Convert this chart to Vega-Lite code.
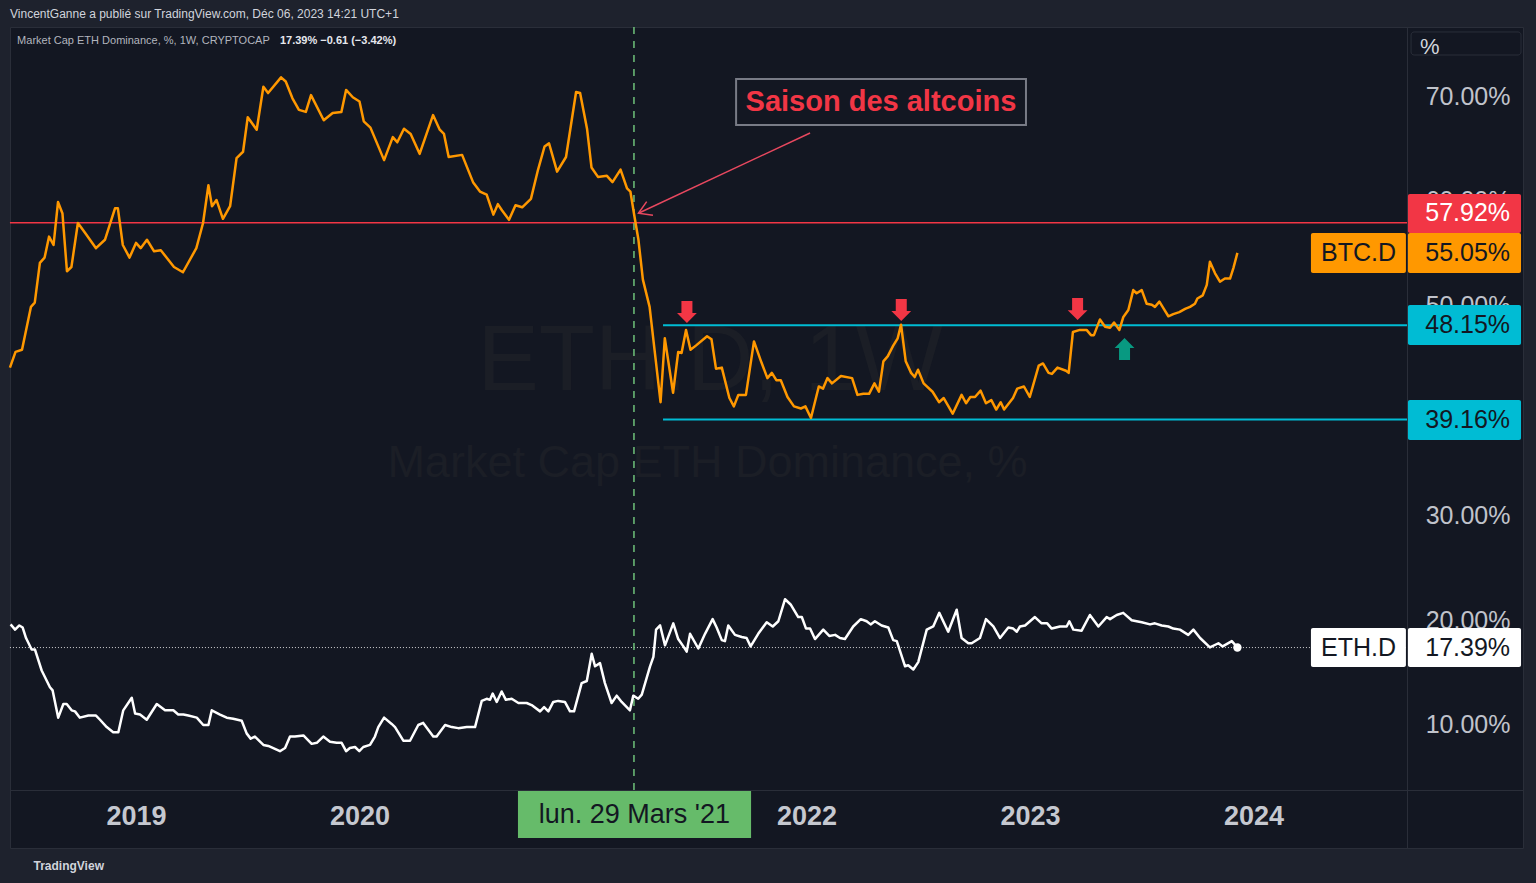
{
  "$schema": "https://vega.github.io/schema/vega-lite/v6.json",
  "width": 1513,
  "height": 821,
  "autosize": {"type": "none"},
  "padding": {"left": 10, "top": 27, "right": 13, "bottom": 35},
  "background": "#1e222d",
  "title": {
    "text": "VincentGanne a publié sur TradingView.com, Déc 06, 2023 14:21 UTC+1",
    "anchor": "start",
    "frame": "group",
    "offset": 0,
    "baseline": "middle",
    "fontSize": 12,
    "fontWeight": "normal",
    "color": "#d1d4dc",
    "font": "Liberation Sans"
  },
  "config": {
    "font": "Liberation Sans",
    "view": {"fill": "#131722", "stroke": "#2a2e39", "strokeWidth": 1}
  },
  "encoding": {
    "x": {
      "field": "t",
      "type": "quantitative",
      "scale": {"domain": [2018.43624, 2025.20582], "nice": false, "zero": false},
      "axis": {
        "orient": "bottom",
        "offset": -58,
        "values": [2019, 2020, 2022, 2023, 2024],
        "format": "d",
        "grid": false,
        "ticks": false,
        "tickSize": 0,
        "domainColor": "#2a2e39",
        "labelColor": "#c5c8d0",
        "labelFontSize": 27,
        "labelFontWeight": "bold",
        "labelBaseline": "middle",
        "labelPadding": 26,
        "labelFlush": false,
        "labelOverlap": false,
        "title": "TradingView",
        "titleX": 23,
        "titleY": 75,
        "titleAlign": "left",
        "titleAnchor": "start",
        "titleBaseline": "middle",
        "titleFontSize": 12,
        "titleFontWeight": "bold",
        "titleColor": "#d1d4dc",
        "titleAngle": 0
      }
    },
    "y": {
      "field": "v",
      "type": "quantitative",
      "scale": {"domain": [-1.737, 76.603], "nice": false, "zero": false},
      "axis": {
        "orient": "right",
        "offset": -116,
        "values": [10, 20, 30, 50, 60, 70],
        "labelExpr": "format(datum.value, '.2f') + '%'",
        "grid": false,
        "ticks": false,
        "tickSize": 0,
        "domainColor": "#2a2e39",
        "labelColor": "#c0c3cb",
        "labelFontSize": 25,
        "labelAlign": "right",
        "labelBaseline": "middle",
        "labelPadding": 103,
        "labelOverlap": false,
        "labelFlush": false,
        "title": null
      }
    }
  },
  "layer": [
    {
      "data": {"values": [{"t": 2021.568, "v": 44.64, "label": "ETH.D, 1W"}]},
      "mark": {"type": "text", "align": "center", "baseline": "middle", "fontSize": 92, "color": "#1b1e26"},
      "encoding": {"text": {"field": "label"}}
    },
    {
      "data": {"values": [{"t": 2021.557, "v": 35.0, "label": "Market Cap ETH Dominance, %"}]},
      "mark": {"type": "text", "align": "center", "baseline": "middle", "fontSize": 45, "color": "#1b1e26"},
      "encoding": {"text": {"field": "label"}}
    },
    {
      "data": {"values": [{"t": 2018.436, "t2": 2024.687, "v": 57.92}]},
      "mark": {"type": "rule", "color": "#f23645", "strokeWidth": 1.5},
      "encoding": {"x2": {"field": "t2"}}
    },
    {
      "data": {"values": [{"t": 2021.358, "t2": 2024.687, "v": 48.15}, {"t": 2021.358, "t2": 2024.687, "v": 39.16}]},
      "mark": {"type": "rule", "color": "#00bcd4", "strokeWidth": 2},
      "encoding": {"x2": {"field": "t2"}}
    },
    {
      "data": {"values": [{"t": 2018.436, "t2": 2024.687, "v": 17.39}]},
      "mark": {"type": "rule", "color": "#ffffff", "strokeWidth": 1, "strokeDash": [1, 2], "opacity": 0.8},
      "encoding": {"x2": {"field": "t2"}}
    },
    {
      "data": {"values": [{"t": 2021.228, "v": 3.8, "v2": 76.603}]},
      "mark": {"type": "rule", "color": "#6fc27a", "strokeWidth": 1.5, "strokeDash": [7, 7]},
      "encoding": {"y2": {"field": "v2"}}
    },
    {
      "data": {"values": [
        {"t":2018.436,"v":44.1},{"t":2018.461,"v":45.6},{"t":2018.490,"v":45.8},{"t":2018.530,"v":49.9},{"t":2018.547,"v":50.3},
        {"t":2018.570,"v":54.1},{"t":2018.591,"v":54.6},{"t":2018.611,"v":56.6},{"t":2018.631,"v":55.8},{"t":2018.651,"v":59.9},
        {"t":2018.671,"v":58.8},{"t":2018.691,"v":53.3},{"t":2018.711,"v":53.7},{"t":2018.740,"v":57.9},{"t":2018.771,"v":57.0},
        {"t":2018.821,"v":55.5},{"t":2018.861,"v":56.3},{"t":2018.906,"v":59.3},{"t":2018.919,"v":59.3},{"t":2018.941,"v":55.8},
        {"t":2018.971,"v":54.6},{"t":2019.000,"v":56.0},{"t":2019.021,"v":55.5},{"t":2019.049,"v":56.3},{"t":2019.081,"v":55.2},
        {"t":2019.111,"v":55.3},{"t":2019.170,"v":53.7},{"t":2019.210,"v":53.2},{"t":2019.270,"v":55.5},{"t":2019.300,"v":57.9},
        {"t":2019.324,"v":61.5},{"t":2019.340,"v":59.5},{"t":2019.360,"v":60.1},{"t":2019.389,"v":58.3},{"t":2019.421,"v":59.5},
        {"t":2019.450,"v":64.1},{"t":2019.479,"v":64.7},{"t":2019.500,"v":68.0},{"t":2019.540,"v":66.8},{"t":2019.570,"v":70.9},
        {"t":2019.591,"v":70.3},{"t":2019.649,"v":71.8},{"t":2019.670,"v":71.4},{"t":2019.700,"v":69.8},{"t":2019.729,"v":68.7},
        {"t":2019.760,"v":68.5},{"t":2019.783,"v":70.1},{"t":2019.840,"v":67.7},{"t":2019.880,"v":68.4},{"t":2019.919,"v":68.5},
        {"t":2019.940,"v":70.6},{"t":2019.970,"v":69.9},{"t":2020.000,"v":69.5},{"t":2020.019,"v":67.6},{"t":2020.049,"v":67.0},
        {"t":2020.110,"v":63.9},{"t":2020.149,"v":66.1},{"t":2020.169,"v":65.6},{"t":2020.199,"v":66.9},{"t":2020.229,"v":66.4},
        {"t":2020.269,"v":64.5},{"t":2020.329,"v":68.2},{"t":2020.359,"v":66.8},{"t":2020.378,"v":66.4},{"t":2020.399,"v":64.2},
        {"t":2020.459,"v":64.4},{"t":2020.508,"v":61.8},{"t":2020.539,"v":60.9},{"t":2020.569,"v":60.6},{"t":2020.599,"v":58.7},
        {"t":2020.619,"v":59.7},{"t":2020.638,"v":59.1},{"t":2020.669,"v":58.2},{"t":2020.698,"v":59.6},{"t":2020.728,"v":59.4},
        {"t":2020.767,"v":60.2},{"t":2020.799,"v":63.0},{"t":2020.828,"v":65.2},{"t":2020.848,"v":65.5},{"t":2020.884,"v":62.8},
        {"t":2020.924,"v":64.2},{"t":2020.969,"v":70.4},{"t":2020.987,"v":70.3},{"t":2021.018,"v":66.9},{"t":2021.038,"v":63.2},
        {"t":2021.067,"v":62.3},{"t":2021.107,"v":62.4},{"t":2021.132,"v":61.8},{"t":2021.168,"v":63.0},{"t":2021.197,"v":61.2},
        {"t":2021.212,"v":60.9},{"t":2021.228,"v":58.8},{"t":2021.248,"v":56.3},{"t":2021.268,"v":52.5},{"t":2021.298,"v":49.9},
        {"t":2021.347,"v":40.8},{"t":2021.366,"v":46.9},{"t":2021.403,"v":41.7},{"t":2021.426,"v":45.6},{"t":2021.441,"v":45.5},
        {"t":2021.461,"v":47.7},{"t":2021.481,"v":45.8},{"t":2021.505,"v":46.2},{"t":2021.555,"v":47.1},{"t":2021.575,"v":46.8},
        {"t":2021.595,"v":44.0},{"t":2021.621,"v":44.1},{"t":2021.655,"v":41.2},{"t":2021.675,"v":40.4},{"t":2021.695,"v":41.5},
        {"t":2021.729,"v":41.5},{"t":2021.765,"v":46.6},{"t":2021.795,"v":44.8},{"t":2021.825,"v":43.1},{"t":2021.845,"v":43.6},
        {"t":2021.865,"v":42.9},{"t":2021.885,"v":42.9},{"t":2021.915,"v":41.3},{"t":2021.944,"v":40.4},{"t":2021.975,"v":40.2},
        {"t":2021.995,"v":40.4},{"t":2022.020,"v":39.3},{"t":2022.055,"v":42.3},{"t":2022.074,"v":42.1},{"t":2022.094,"v":43.1},
        {"t":2022.114,"v":42.6},{"t":2022.154,"v":43.3},{"t":2022.204,"v":43.1},{"t":2022.228,"v":41.5},{"t":2022.254,"v":41.6},
        {"t":2022.280,"v":41.6},{"t":2022.304,"v":42.6},{"t":2022.324,"v":41.8},{"t":2022.344,"v":44.7},{"t":2022.364,"v":45.2},
        {"t":2022.388,"v":46.2},{"t":2022.408,"v":46.9},{"t":2022.423,"v":48.2},{"t":2022.444,"v":44.7},{"t":2022.468,"v":43.6},
        {"t":2022.484,"v":43.2},{"t":2022.499,"v":43.9},{"t":2022.524,"v":42.6},{"t":2022.564,"v":41.8},{"t":2022.593,"v":40.8},
        {"t":2022.614,"v":41.2},{"t":2022.654,"v":39.7},{"t":2022.694,"v":41.5},{"t":2022.714,"v":40.7},{"t":2022.733,"v":41.3},
        {"t":2022.754,"v":41.3},{"t":2022.779,"v":41.9},{"t":2022.803,"v":40.7},{"t":2022.827,"v":41.0},{"t":2022.849,"v":40.1},
        {"t":2022.869,"v":40.8},{"t":2022.884,"v":40.1},{"t":2022.924,"v":41.2},{"t":2022.943,"v":42.1},{"t":2022.973,"v":42.3},
        {"t":2022.999,"v":41.3},{"t":2023.039,"v":44.3},{"t":2023.058,"v":44.5},{"t":2023.083,"v":43.6},{"t":2023.098,"v":43.5},
        {"t":2023.123,"v":44.1},{"t":2023.161,"v":43.8},{"t":2023.173,"v":43.6},{"t":2023.192,"v":47.5},{"t":2023.223,"v":47.7},
        {"t":2023.253,"v":47.7},{"t":2023.273,"v":47.2},{"t":2023.286,"v":47.2},{"t":2023.313,"v":48.7},{"t":2023.336,"v":48.0},
        {"t":2023.358,"v":47.9},{"t":2023.376,"v":48.4},{"t":2023.400,"v":47.7},{"t":2023.417,"v":48.9},{"t":2023.440,"v":49.6},
        {"t":2023.462,"v":51.5},{"t":2023.477,"v":51.2},{"t":2023.500,"v":51.5},{"t":2023.522,"v":50.2},{"t":2023.545,"v":50.1},
        {"t":2023.559,"v":49.9},{"t":2023.579,"v":50.4},{"t":2023.596,"v":49.8},{"t":2023.619,"v":49.0},{"t":2023.641,"v":49.2},
        {"t":2023.668,"v":49.4},{"t":2023.694,"v":49.7},{"t":2023.716,"v":49.9},{"t":2023.738,"v":50.2},{"t":2023.749,"v":50.7},
        {"t":2023.773,"v":51.0},{"t":2023.791,"v":52.0},{"t":2023.805,"v":54.2},{"t":2023.828,"v":53.1},{"t":2023.850,"v":52.3},
        {"t":2023.872,"v":52.6},{"t":2023.895,"v":52.6},{"t":2023.910,"v":53.6},{"t":2023.928,"v":55.05}
      ]},
      "mark": {"type": "line", "color": "#ff9800", "strokeWidth": 2.5, "strokeJoin": "round"}
    },
    {
      "data": {"values": [
        {"t":2018.439,"v":19.6},{"t":2018.459,"v":19.1},{"t":2018.478,"v":19.5},{"t":2018.493,"v":19.3},{"t":2018.508,"v":18.3},
        {"t":2018.533,"v":17.2},{"t":2018.548,"v":17.2},{"t":2018.578,"v":15.2},{"t":2018.615,"v":13.6},{"t":2018.627,"v":13.3},
        {"t":2018.652,"v":10.7},{"t":2018.675,"v":12.0},{"t":2018.690,"v":12.0},{"t":2018.712,"v":11.4},{"t":2018.727,"v":11.3},
        {"t":2018.749,"v":10.7},{"t":2018.787,"v":10.9},{"t":2018.821,"v":10.9},{"t":2018.839,"v":10.5},{"t":2018.869,"v":9.8},
        {"t":2018.898,"v":9.3},{"t":2018.921,"v":9.3},{"t":2018.943,"v":11.4},{"t":2018.981,"v":12.6},{"t":2018.996,"v":11.1},
        {"t":2019.018,"v":11.0},{"t":2019.048,"v":10.5},{"t":2019.093,"v":12.0},{"t":2019.130,"v":11.4},{"t":2019.167,"v":11.4},
        {"t":2019.189,"v":11.0},{"t":2019.212,"v":11.0},{"t":2019.234,"v":10.9},{"t":2019.272,"v":10.7},{"t":2019.301,"v":10.0},
        {"t":2019.324,"v":10.0},{"t":2019.339,"v":11.4},{"t":2019.376,"v":11.0},{"t":2019.406,"v":10.7},{"t":2019.435,"v":10.6},
        {"t":2019.473,"v":10.4},{"t":2019.495,"v":9.2},{"t":2019.513,"v":8.7},{"t":2019.532,"v":8.9},{"t":2019.570,"v":8.1},
        {"t":2019.592,"v":8.0},{"t":2019.644,"v":7.5},{"t":2019.667,"v":7.8},{"t":2019.689,"v":8.9},{"t":2019.711,"v":8.9},
        {"t":2019.749,"v":9.0},{"t":2019.786,"v":8.2},{"t":2019.809,"v":8.3},{"t":2019.838,"v":8.9},{"t":2019.868,"v":8.4},
        {"t":2019.898,"v":8.3},{"t":2019.920,"v":8.3},{"t":2019.940,"v":7.5},{"t":2019.957,"v":7.8},{"t":2019.980,"v":7.9},
        {"t":2019.999,"v":7.5},{"t":2020.017,"v":7.9},{"t":2020.047,"v":8.1},{"t":2020.069,"v":8.9},{"t":2020.084,"v":9.8},
        {"t":2020.110,"v":10.7},{"t":2020.144,"v":10.1},{"t":2020.159,"v":9.8},{"t":2020.196,"v":8.5},{"t":2020.226,"v":8.5},
        {"t":2020.263,"v":10.0},{"t":2020.285,"v":10.2},{"t":2020.330,"v":8.9},{"t":2020.345,"v":8.9},{"t":2020.383,"v":10.0},
        {"t":2020.413,"v":9.8},{"t":2020.442,"v":9.7},{"t":2020.480,"v":9.8},{"t":2020.517,"v":9.8},{"t":2020.547,"v":12.3},
        {"t":2020.569,"v":12.5},{"t":2020.584,"v":12.4},{"t":2020.596,"v":13.0},{"t":2020.614,"v":12.2},{"t":2020.636,"v":13.2},
        {"t":2020.655,"v":12.4},{"t":2020.681,"v":12.5},{"t":2020.711,"v":12.1},{"t":2020.748,"v":12.1},{"t":2020.770,"v":11.9},
        {"t":2020.808,"v":11.3},{"t":2020.826,"v":11.7},{"t":2020.845,"v":11.3},{"t":2020.867,"v":12.2},{"t":2020.889,"v":12.3},
        {"t":2020.919,"v":12.2},{"t":2020.942,"v":11.3},{"t":2020.960,"v":11.3},{"t":2020.994,"v":14.0},{"t":2021.017,"v":14.2},
        {"t":2021.039,"v":16.8},{"t":2021.054,"v":15.6},{"t":2021.076,"v":15.9},{"t":2021.098,"v":14.0},{"t":2021.128,"v":12.1},
        {"t":2021.151,"v":12.8},{"t":2021.173,"v":12.2},{"t":2021.210,"v":11.4},{"t":2021.225,"v":12.8},{"t":2021.247,"v":12.5},
        {"t":2021.263,"v":12.9},{"t":2021.300,"v":15.6},{"t":2021.315,"v":16.5},{"t":2021.327,"v":19.1},{"t":2021.345,"v":19.5},
        {"t":2021.367,"v":17.6},{"t":2021.404,"v":19.7},{"t":2021.426,"v":18.2},{"t":2021.449,"v":17.5},{"t":2021.464,"v":17.0},
        {"t":2021.479,"v":18.7},{"t":2021.516,"v":17.3},{"t":2021.546,"v":18.7},{"t":2021.580,"v":20.1},{"t":2021.598,"v":19.3},
        {"t":2021.621,"v":18.1},{"t":2021.635,"v":18.0},{"t":2021.650,"v":19.5},{"t":2021.680,"v":18.6},{"t":2021.710,"v":18.4},
        {"t":2021.732,"v":18.3},{"t":2021.750,"v":17.5},{"t":2021.784,"v":18.7},{"t":2021.822,"v":19.8},{"t":2021.849,"v":19.4},
        {"t":2021.874,"v":19.9},{"t":2021.904,"v":22.0},{"t":2021.929,"v":21.5},{"t":2021.963,"v":20.3},{"t":2021.979,"v":20.3},
        {"t":2021.998,"v":19.2},{"t":2022.016,"v":19.2},{"t":2022.038,"v":18.2},{"t":2022.075,"v":19.1},{"t":2022.102,"v":18.5},
        {"t":2022.128,"v":18.6},{"t":2022.150,"v":18.3},{"t":2022.172,"v":18.2},{"t":2022.209,"v":19.4},{"t":2022.243,"v":20.1},
        {"t":2022.269,"v":19.9},{"t":2022.287,"v":19.6},{"t":2022.306,"v":19.9},{"t":2022.336,"v":19.5},{"t":2022.366,"v":19.3},
        {"t":2022.388,"v":18.1},{"t":2022.404,"v":18.0},{"t":2022.441,"v":15.6},{"t":2022.455,"v":15.7},{"t":2022.478,"v":15.3},
        {"t":2022.500,"v":16.0},{"t":2022.538,"v":19.1},{"t":2022.567,"v":19.4},{"t":2022.594,"v":20.7},{"t":2022.634,"v":18.9},
        {"t":2022.672,"v":21.0},{"t":2022.694,"v":18.3},{"t":2022.724,"v":17.8},{"t":2022.739,"v":17.8},{"t":2022.776,"v":18.3},
        {"t":2022.803,"v":20.1},{"t":2022.836,"v":19.4},{"t":2022.866,"v":18.3},{"t":2022.903,"v":19.3},{"t":2022.925,"v":19.2},
        {"t":2022.941,"v":18.9},{"t":2022.955,"v":19.4},{"t":2022.978,"v":19.5},{"t":2023.022,"v":20.3},{"t":2023.052,"v":19.7},
        {"t":2023.077,"v":19.7},{"t":2023.097,"v":19.2},{"t":2023.134,"v":19.4},{"t":2023.164,"v":19.4},{"t":2023.176,"v":19.9},
        {"t":2023.194,"v":19.1},{"t":2023.231,"v":19.0},{"t":2023.268,"v":20.5},{"t":2023.306,"v":19.4},{"t":2023.343,"v":20.3},
        {"t":2023.358,"v":20.1},{"t":2023.388,"v":20.5},{"t":2023.417,"v":20.7},{"t":2023.455,"v":20.0},{"t":2023.477,"v":19.9},
        {"t":2023.500,"v":19.8},{"t":2023.537,"v":19.6},{"t":2023.559,"v":19.7},{"t":2023.589,"v":19.5},{"t":2023.619,"v":19.4},
        {"t":2023.641,"v":19.2},{"t":2023.671,"v":19.1},{"t":2023.708,"v":18.6},{"t":2023.731,"v":19.1},{"t":2023.761,"v":18.3},
        {"t":2023.805,"v":17.4},{"t":2023.843,"v":17.8},{"t":2023.862,"v":17.5},{"t":2023.903,"v":18.0},{"t":2023.928,"v":17.39}
      ]},
      "mark": {"type": "line", "color": "#ffffff", "strokeWidth": 2.5, "strokeJoin": "round"}
    },
    {
      "data": {"values": [{"t": 2023.928, "v": 17.39}]},
      "mark": {"type": "point", "filled": true, "color": "#ffffff", "size": 70, "opacity": 1}
    },
    {
      "data": {"values": [
        {"seg": "shaft", "o": 0, "t": 2022.016, "v": 66.49},
        {"seg": "shaft", "o": 1, "t": 2021.248, "v": 58.83},
        {"seg": "head", "o": 0, "t": 2021.313, "v": 58.64},
        {"seg": "head", "o": 1, "t": 2021.248, "v": 58.83},
        {"seg": "head", "o": 2, "t": 2021.285, "v": 59.94}
      ]},
      "mark": {"type": "line", "color": "#e8485f", "strokeWidth": 1.5},
      "encoding": {"detail": {"field": "seg"}, "order": {"field": "o"}}
    },
    {
      "data": {"values": [{"t": 2021.685, "t2": 2022.982, "v": 71.64, "v2": 67.25}]},
      "mark": {"type": "rect", "fill": "#131722", "stroke": "#787b86", "strokeWidth": 2},
      "encoding": {"x2": {"field": "t2"}, "y2": {"field": "v2"}}
    },
    {
      "data": {"values": [{"t": 2022.333, "v": 69.45, "label": "Saison des altcoins"}]},
      "mark": {"type": "text", "align": "center", "baseline": "middle", "fontSize": 29, "fontWeight": "bold", "color": "#f23645"},
      "encoding": {"text": {"field": "label"}}
    },
    {
      "data": {"values": [{"t": 2021.465, "v": 49.41}, {"t": 2022.424, "v": 49.6}, {"t": 2023.213, "v": 49.69}]},
      "mark": {"type": "point", "shape": "M-0.5,-1L0.5,-1L0.5,0.1L0.9,0.1L0,1L-0.9,0.1L-0.5,0.1Z", "filled": true, "color": "#f23645", "size": 484, "opacity": 1, "strokeWidth": 0}
    },
    {
      "data": {"values": [{"t": 2023.423, "v": 45.88}]},
      "mark": {"type": "point", "shape": "M-0.5,1L0.5,1L0.5,-0.1L0.9,-0.1L0,-1L-0.9,-0.1L-0.5,-0.1Z", "filled": true, "color": "#089981", "size": 484, "opacity": 1, "strokeWidth": 0}
    },
    {
      "data": {"values": [{"t": 2018.468, "v": 75.27, "label": "Market Cap ETH Dominance, %, 1W, CRYPTOCAP"}]},
      "mark": {"type": "text", "align": "left", "baseline": "middle", "fontSize": 11, "color": "#b2b5be"},
      "encoding": {"text": {"field": "label"}}
    },
    {
      "data": {"values": [{"t": 2019.644, "v": 75.27, "label": "17.39%  −0.61 (−3.42%)"}]},
      "mark": {"type": "text", "align": "left", "baseline": "middle", "fontSize": 11, "fontWeight": "bold", "color": "#e6e8ee"},
      "encoding": {"text": {"field": "label"}}
    },
    {
      "data": {"values": [{"t": 2020.709, "t2": 2021.752, "v": 3.7, "v2": -0.78}]},
      "mark": {"type": "rect", "fill": "#66bb6a"},
      "encoding": {"x2": {"field": "t2"}, "y2": {"field": "v2"}}
    },
    {
      "data": {"values": [{"t": 2021.23, "v": 1.41, "label": "lun. 29 Mars '21"}]},
      "mark": {"type": "text", "align": "center", "baseline": "middle", "fontSize": 27, "color": "#131722"},
      "encoding": {"text": {"field": "label"}}
    },
    {
      "data": {"values": [{"t": 2024.705, "t2": 2025.197, "v": 76.13, "v2": 73.93}]},
      "mark": {"type": "rect", "fill": "#131722", "stroke": "#2a2e39", "strokeWidth": 1, "cornerRadius": 3},
      "encoding": {"x2": {"field": "t2"}, "y2": {"field": "v2"}}
    },
    {
      "data": {"values": [{"t": 2024.745, "v": 74.72, "label": "%"}]},
      "mark": {"type": "text", "align": "left", "baseline": "middle", "fontSize": 22, "color": "#d1d4dc"},
      "encoding": {"text": {"field": "label"}}
    },
    {
      "data": {"values": [
        {"t": 2024.691, "t2": 2025.197, "v": 60.67, "v2": 56.95, "kind": "resistance"},
        {"t": 2024.257, "t2": 2024.682, "v": 56.95, "v2": 53.13, "kind": "btc"},
        {"t": 2024.691, "t2": 2025.197, "v": 56.95, "v2": 53.13, "kind": "btc"},
        {"t": 2024.691, "t2": 2025.197, "v": 50.08, "v2": 46.26, "kind": "range"},
        {"t": 2024.691, "t2": 2025.197, "v": 41.01, "v2": 37.19, "kind": "range"},
        {"t": 2024.257, "t2": 2024.682, "v": 19.26, "v2": 15.53, "kind": "eth"},
        {"t": 2024.691, "t2": 2025.197, "v": 19.26, "v2": 15.53, "kind": "eth"}
      ]},
      "mark": {"type": "rect", "cornerRadius": 2},
      "encoding": {
        "x2": {"field": "t2"},
        "y2": {"field": "v2"},
        "fill": {"field": "kind", "type": "nominal", "scale": {"domain": ["resistance", "btc", "range", "eth"], "range": ["#f23645", "#ff9800", "#00bcd4", "#ffffff"]}, "legend": null}
      }
    },
    {
      "data": {"values": [{"t": 2025.148, "v": 58.81, "label": "57.92%"}]},
      "mark": {"type": "text", "align": "right", "baseline": "middle", "fontSize": 25, "color": "#ffffff"},
      "encoding": {"text": {"field": "label"}}
    },
    {
      "data": {"values": [
        {"t": 2025.148, "v": 55.04, "label": "55.05%"},
        {"t": 2025.148, "v": 48.17, "label": "48.15%"},
        {"t": 2025.148, "v": 39.1, "label": "39.16%"},
        {"t": 2025.148, "v": 17.39, "label": "17.39%"}
      ]},
      "mark": {"type": "text", "align": "right", "baseline": "middle", "fontSize": 25, "color": "#131722"},
      "encoding": {"text": {"field": "label"}}
    },
    {
      "data": {"values": [
        {"t": 2024.47, "v": 55.04, "label": "BTC.D"},
        {"t": 2024.47, "v": 17.39, "label": "ETH.D"}
      ]},
      "mark": {"type": "text", "align": "center", "baseline": "middle", "fontSize": 25, "color": "#131722"},
      "encoding": {"text": {"field": "label"}}
    }
  ]
}
